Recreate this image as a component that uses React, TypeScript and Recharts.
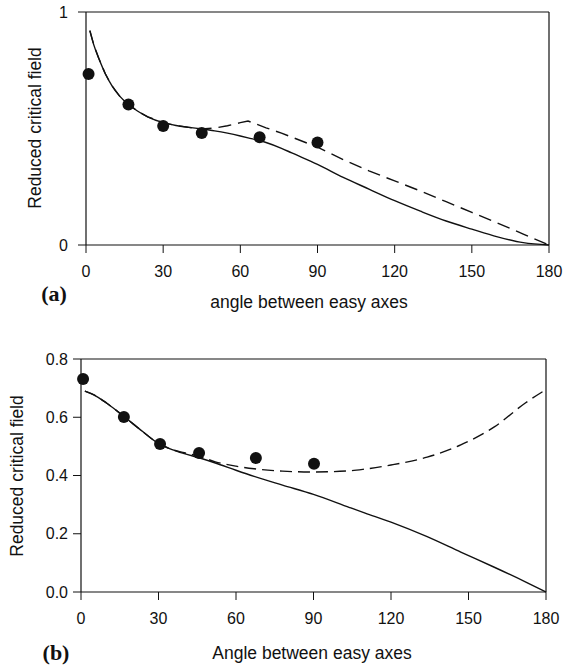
import { ComposedChart, Line, Scatter, XAxis, YAxis, ReferenceLine } from "recharts";

// panel (a)
const anglesA = [1.5, 3, 5, 7.5, 10, 13, 16, 20, 24, 30, 35, 40, 45, 50, 55, 60, 63, 70, 76, 80, 90, 100, 110, 120, 130, 140, 150, 160, 170, 180];
const solidA = [0.92, 0.86, 0.8, 0.735, 0.685, 0.64, 0.608, 0.575, 0.55, 0.525, 0.513, 0.505, 0.498, 0.49, 0.48, 0.468, 0.46, 0.44, 0.415, 0.395, 0.346, 0.29, 0.24, 0.19, 0.145, 0.103, 0.068, 0.035, 0.01, 0];
const dashedA = [0.92, 0.86, 0.8, 0.735, 0.685, 0.64, 0.608, 0.575, 0.55, 0.525, 0.513, 0.505, 0.498, 0.502, 0.512, 0.525, 0.532, 0.503, 0.48, 0.463, 0.42, 0.366, 0.318, 0.275, 0.232, 0.186, 0.14, 0.094, 0.047, 0];
const pointAnglesA = [1, 16.5, 30, 45, 67.5, 90];
const pointValuesA = [0.734, 0.603, 0.511, 0.481, 0.462, 0.44];

// panel (b)
const anglesB = [1.5, 5, 10, 17, 24, 30, 35, 40, 46, 52, 60, 67, 78, 90, 104, 110, 120, 134, 147, 160, 172, 180];
const solidB = [0.69, 0.677, 0.648, 0.6, 0.55, 0.51, 0.49, 0.475, 0.46, 0.443, 0.418, 0.397, 0.367, 0.335, 0.29, 0.271, 0.24, 0.19, 0.137, 0.085, 0.035, 0];
const dashedB = [0.69, 0.677, 0.648, 0.6, 0.55, 0.51, 0.49, 0.478, 0.465, 0.447, 0.432, 0.423, 0.415, 0.412, 0.416, 0.422, 0.436, 0.463, 0.505, 0.567, 0.649, 0.695];
const pointAnglesB = [0.8, 16.6, 30.6, 45.7, 67.7, 90.2];
const pointValuesB = [0.731, 0.601, 0.508, 0.477, 0.46, 0.44];

const xTicks = [0, 30, 60, 90, 120, 150, 180];
const yTicksA = [0, 1];
const yTicksB = [0, 0.2, 0.4, 0.6, 0.8];

const ink = "#111";
const tickFont = { fontFamily: "Liberation Sans, Arial, sans-serif", fontSize: 16, fill: ink };
const labelFont = { fontFamily: "Liberation Sans, Arial, sans-serif", fontSize: 17.5, color: ink };

function rows(angles: number[], values: number[]) {
  return angles.map((angle, i) => ({ angle, v: values[i] }));
}

function Dot(props: any) {
  return <circle cx={props.cx} cy={props.cy} r={6} fill={ink} />;
}

type PanelProps = {
  top: number;
  height: number;
  marginTop: number;
  marginLeft: number;
  marginRight: number;
  yMax: number;
  yTicks: number[];
  yFormat: (v: number) => string;
  yTickMargin: number;
  solid: { angle: number; v: number }[];
  dashed: { angle: number; v: number }[];
  points: { angle: number; v: number }[];
  dash: string;
  dashedType: "linear" | "monotone";
};

function Panel(p: PanelProps) {
  return (
    <div style={{ position: "absolute", left: 0, top: p.top }}>
      <ComposedChart
        width={564}
        height={p.height}
        margin={{ top: p.marginTop, right: p.marginRight, left: p.marginLeft, bottom: 45 }}
      >
        <XAxis
          type="number"
          dataKey="angle"
          domain={[0, 180]}
          ticks={xTicks}
          height={30}
          tickSize={8}
          tickMargin={13}
          tick={tickFont}
          stroke={ink}
          axisLine={{ stroke: ink, strokeWidth: 1.2 }}
          tickLine={{ stroke: ink }}
        />
        <YAxis
          type="number"
          dataKey="v"
          domain={[0, p.yMax]}
          ticks={p.yTicks}
          width={60}
          tickSize={8}
          tickMargin={p.yTickMargin}
          tickFormatter={p.yFormat}
          tick={tickFont}
          stroke={ink}
          axisLine={{ stroke: ink, strokeWidth: 1.2 }}
          tickLine={{ stroke: ink }}
        />
        <ReferenceLine y={p.yMax} stroke={ink} strokeWidth={1.2} />
        <ReferenceLine x={180} stroke={ink} strokeWidth={1.2} />
        <Line
          data={p.solid}
          dataKey="v"
          type="monotone"
          stroke={ink}
          strokeWidth={1.4}
          dot={false}
          isAnimationActive={false}
        />
        <Line
          data={p.dashed}
          dataKey="v"
          type={p.dashedType}
          stroke={ink}
          strokeWidth={1.4}
          strokeDasharray={p.dash}
          dot={false}
          isAnimationActive={false}
        />
        <Scatter data={p.points} dataKey="v" shape={Dot} isAnimationActive={false} />
      </ComposedChart>
    </div>
  );
}

function Text({ x, y, rotate, children, style }: any) {
  return (
    <div
      style={{
        position: "absolute",
        left: x,
        top: y,
        whiteSpace: "nowrap",
        transform: `translate(-50%, -50%)${rotate ? " rotate(-90deg)" : ""}`,
        ...style
      }}
    >
      {children}
    </div>
  );
}

const panelTag = { fontFamily: "Liberation Serif, Times New Roman, serif", fontWeight: 700, fontSize: 22, color: ink };

export default function App() {
  return (
    <div style={{ position: "absolute", left: 0, top: 0, width: 564, height: 667, background: "#fff", overflow: "hidden" }}>
      <Panel
        top={0}
        height={320}
        marginTop={12}
        marginLeft={26}
        marginRight={15}
        yMax={1}
        yTicks={yTicksA}
        yFormat={(v) => String(v)}
        yTickMargin={10}
        solid={rows(anglesA, solidA)}
        dashed={rows(anglesA, dashedA)}
        points={rows(pointAnglesA, pointValuesA)}
        dash="13 7"
        dashedType="linear"
      />
      <Text x={35} y={128} rotate style={labelFont}>Reduced critical field</Text>
      <Text x={309} y={302} style={labelFont}>angle between easy axes</Text>
      <Text x={54} y={294} style={panelTag}>(a)</Text>

      <Panel
        top={330}
        height={337}
        marginTop={29}
        marginLeft={21}
        marginRight={18}
        yMax={0.8}
        yTicks={yTicksB}
        yFormat={(v) => v.toFixed(1)}
        yTickMargin={5}
        solid={rows(anglesB, solidB)}
        dashed={rows(anglesB, dashedB)}
        points={rows(pointAnglesB, pointValuesB)}
        dash="12 6"
        dashedType="monotone"
      />
      <Text x={17} y={476} rotate style={labelFont}>Reduced critical field</Text>
      <Text x={312} y={653} style={labelFont}>Angle between easy axes</Text>
      <Text x={56} y={653} style={panelTag}>(b)</Text>
    </div>
  );
}
